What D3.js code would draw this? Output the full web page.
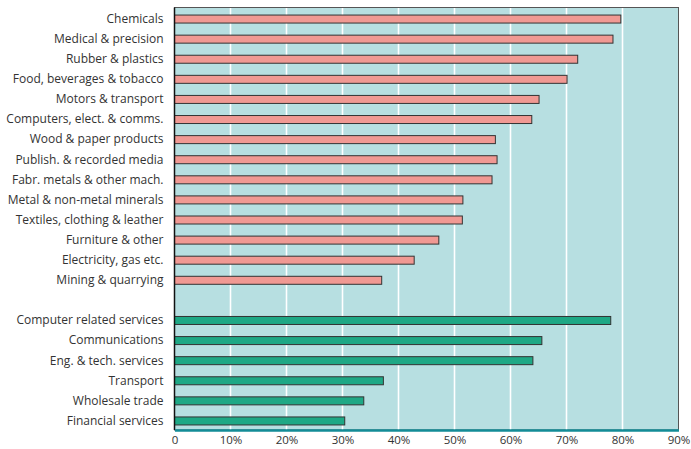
<!DOCTYPE html>
<html>
<head>
<meta charset="utf-8">
<script src="https://cdn.jsdelivr.net/npm/d3@7"></script>
<style>
  html, body { margin: 0; padding: 0; background: #fff; }
  svg { display: block; }
  text { font-family: "Open Sans", "Noto Sans", sans-serif; fill: #333; }
</style>
</head>
<body>
<svg id="chart" width="691" height="449"></svg>
<script>
// Manufacturing industries (top group)
const manufacturing = [
  "Chemicals", "Medical & precision", "Rubber & plastics", "Food, beverages & tobacco",
  "Motors & transport", "Computers, elect. & comms.", "Wood & paper products",
  "Publish. & recorded media", "Fabr. metals & other mach.", "Metal & non-metal minerals",
  "Textiles, clothing & leather", "Furniture & other", "Electricity, gas etc.", "Mining & quarrying"
];
const manufacturingValues = [79.7, 78.3, 72.0, 70.1, 65.1, 63.8, 57.3, 57.6, 56.7, 51.5, 51.4, 47.2, 42.8, 37.0];

// Service industries (bottom group)
const services = [
  "Computer related services", "Communications", "Eng. & tech. services",
  "Transport", "Wholesale trade", "Financial services"
];
const serviceValues = [77.9, 65.6, 64.0, 37.3, 33.8, 30.4];

const tickValues = [0, 10, 20, 30, 40, 50, 60, 70, 80, 90];
const tickLabels = ["0", "10%", "20%", "30%", "40%", "50%", "60%", "70%", "80%", "90%"];

const rows = [
  ...manufacturing.map((name, i) => ({ key: "m" + i, name, value: manufacturingValues[i], group: "m" })),
  { key: "gap", name: "", value: null, group: null },
  ...services.map((name, i) => ({ key: "s" + i, name, value: serviceValues[i], group: "s" }))
];

const svg = d3.select("#chart");
const plot = { left: 174.5, right: 678.5, top: 7.5, bottom: 430 };

const x = d3.scaleLinear().domain([0, 90]).range([plot.left, plot.right]);
const y = d3.scaleBand().domain(rows.map(r => r.key)).range([9, 431]).paddingInner(0).paddingOuter(0);
const barH = 8;
const colors = { m: "#f09993", s: "#1ea885" };

// Background panel
svg.append("rect")
  .attr("x", plot.left).attr("y", plot.top)
  .attr("width", plot.right - plot.left).attr("height", plot.bottom - plot.top)
  .attr("fill", "#b7dfe1")
  .attr("stroke", "#555").attr("stroke-width", 1);

// Vertical gridlines
svg.append("g").selectAll("line")
  .data(tickValues.filter(v => v > 0 && v < 90))
  .join("line")
  .attr("x1", d => x(d)).attr("x2", d => x(d))
  .attr("y1", plot.top + 0.5).attr("y2", plot.bottom)
  .attr("stroke", "#ffffff").attr("stroke-width", 1.6);

// Bars
svg.append("g").selectAll("rect")
  .data(rows.filter(r => r.value !== null))
  .join("rect")
  .attr("x", x(0))
  .attr("y", d => y(d.key) + y.bandwidth() / 2 - barH / 2)
  .attr("width", d => x(d.value) - x(0))
  .attr("height", barH)
  .attr("fill", d => colors[d.group])
  .attr("stroke", "#333").attr("stroke-width", 1);

// Category labels
const yAxis = d3.axisLeft(y).tickSize(0).tickPadding(0)
  .tickFormat(k => (rows.find(r => r.key === k) || {}).name || "");
const yg = svg.append("g").attr("transform", `translate(${plot.left - 11},0)`).call(yAxis);
yg.select(".domain").remove();
yg.selectAll("text").attr("font-size", 12).attr("fill", "#333")
  .style("font-family", '"Open Sans", "Noto Sans", sans-serif');

// Left axis line
svg.append("line")
  .attr("x1", plot.left).attr("x2", plot.left)
  .attr("y1", plot.top).attr("y2", plot.bottom)
  .attr("stroke", "#111").attr("stroke-width", 1.5);

// Bottom axis (teal base line + labels)
const xAxis = d3.axisBottom(x).tickValues(tickValues).tickSize(0).tickPadding(6)
  .tickFormat((d, i) => tickLabels[i]);
const xg = svg.append("g").attr("transform", `translate(0,${plot.bottom})`).call(xAxis);
xg.select(".domain").attr("stroke", "#138c97").attr("stroke-width", 2.5);
xg.selectAll("text").attr("font-size", 11.5).attr("fill", "#333")
  .style("font-family", '"Open Sans", "Noto Sans", sans-serif');
</script>
</body>
</html>
